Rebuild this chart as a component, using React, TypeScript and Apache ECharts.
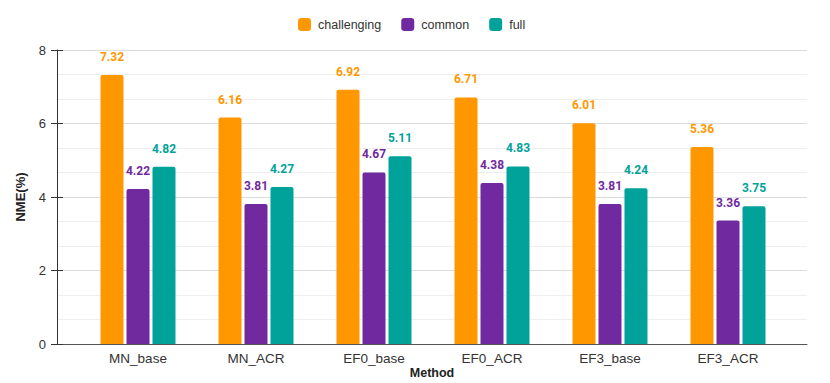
import React, { useEffect, useRef } from "react";
import * as echarts from "echarts";

const categories = ["MN_base", "MN_ACR", "EF0_base", "EF0_ACR", "EF3_base", "EF3_ACR"];
const challenging = [7.32, 6.16, 6.92, 6.71, 6.01, 5.36];
const common = [4.22, 3.81, 4.67, 4.38, 3.81, 3.36];
const full = [4.82, 4.27, 5.11, 4.83, 4.24, 3.75];
const seriesNames = ["challenging", "common", "full"];
const colors = ["#FF9800", "#7129A0", "#00A29A"];

const FONT = "'Liberation Sans', Arial, sans-serif";
const LABEL_FONT = "Roboto, 'Liberation Sans', sans-serif";

export default function App() {
  const ref = useRef<HTMLDivElement>(null);
  useEffect(() => {
    if (!ref.current) return;
    const chart = echarts.init(ref.current, undefined, { renderer: "svg" });
    const values = [challenging, common, full];
    chart.setOption({
      animation: false,
      textStyle: { fontFamily: FONT },
      legend: {
        left: 298,
        top: 18,
        padding: 0,
        itemWidth: 13,
        itemHeight: 13,
        itemGap: 20,
        icon: "roundRect",
        textStyle: { fontSize: 12.5, color: "#333", fontFamily: FONT, padding: [0, 0, 0, 2] },
        data: seriesNames,
      },
      grid: [
        { left: 57, right: 23, top: 50, bottom: 39, outerBoundsMode: "none", containLabel: false },
        { left: 79, right: 43, top: 50, bottom: 39, outerBoundsMode: "none", containLabel: false },
      ],
      xAxis: [
        {
          type: "value",
          gridIndex: 0,
          min: 0,
          max: 1,
          axisLine: { show: true, lineStyle: { color: "#555", width: 1 } },
          axisTick: { show: false },
          axisLabel: { show: false },
          splitLine: { show: false },
          name: "Method",
          nameLocation: "middle",
          nameGap: 22,
          nameTextStyle: { fontWeight: "bold", fontSize: 12.5, color: "#222", fontFamily: FONT },
        },
        {
          type: "category",
          gridIndex: 1,
          data: categories,
          axisLine: { show: false },
          axisTick: { show: false },
          axisLabel: { color: "#333", fontSize: 13.5, margin: 7, fontFamily: FONT },
        },
      ],
      yAxis: [
        {
          type: "value",
          gridIndex: 0,
          position: "left",
          min: 0,
          max: 8,
          interval: 2,
          axisLine: { show: true, lineStyle: { color: "#333", width: 1 } },
          axisTick: { show: true, inside: false, length: 6, lineStyle: { color: "#333" } },
          minorTick: { show: false, splitNumber: 3 },
          axisLabel: { color: "#333", fontSize: 13, margin: 11, fontFamily: FONT },
          splitLine: { show: true, lineStyle: { color: "#dcdcdc", width: 1 } },
          minorSplitLine: { show: true, lineStyle: { color: "#eeeeee", width: 1 } },
          name: "NME(%)",
          nameLocation: "middle",
          nameGap: 30,
          nameTextStyle: { fontWeight: "bold", fontSize: 13, color: "#222", fontFamily: FONT },
        },
        {
          type: "value",
          gridIndex: 0,
          position: "left",
          offset: 0,
          min: 0,
          max: 8,
          interval: 2,
          axisLine: { show: false },
          axisTick: { show: true, inside: true, length: 6, lineStyle: { color: "#333" } },
          axisLabel: { show: false },
          splitLine: { show: false },
        },
        {
          type: "value",
          gridIndex: 1,
          min: 0,
          max: 8,
          interval: 2,
          show: false,
        },
      ],
      series: seriesNames.map((name, i) => ({
        name,
        type: "bar",
        xAxisIndex: 1,
        yAxisIndex: 2,
        data: values[i],
        barWidth: 23,
        barGap: "13%",
        itemStyle: { color: colors[i], borderRadius: [2, 2, 0, 0] },
        label: {
          show: true,
          position: "top",
          distance: 12,
          color: colors[i],
          fontWeight: "bold",
          fontSize: 12,
          fontFamily: LABEL_FONT,
          formatter: (p: any) => Number(p.value).toFixed(2),
        },
      })),
    });
    return () => chart.dispose();
  }, []);
  return (
    <div
      ref={ref}
      style={{ position: "fixed", left: 0, top: 0, width: 830, height: 383, background: "#fff" }}
    />
  );
}
